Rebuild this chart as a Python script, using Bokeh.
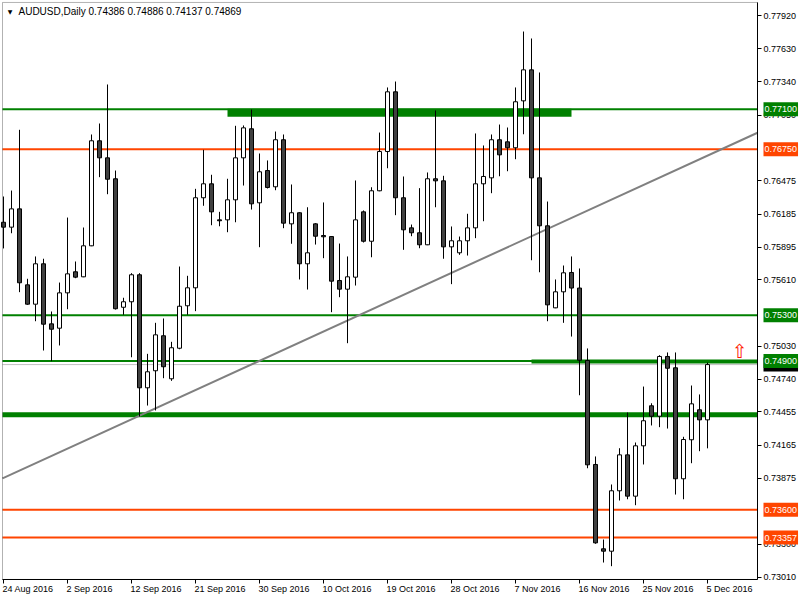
from bokeh.plotting import figure
from bokeh.models import (Range1d, FixedTicker, PrintfTickFormatter, LinearAxis, BoxAnnotation,
                          Label, LabelSet, ColumnDataSource)
from bokeh.core.properties import value
from bokeh.embed import file_html
from bokeh.resources import INLINE

symbol = "AUDUSD"
timeframe = "Daily"

# daily OHLC, bar 0 = 24 Aug 2016 ... bar 88 = 5 Dec 2016
opens = [
    0.76113, 0.76070, 0.76230, 0.75566, 0.75397, 0.75750, 0.75225, 0.75187, 0.75496, 0.75680,
    0.75636, 0.75907, 0.76825, 0.76676, 0.76493, 0.75370, 0.75418, 0.75654, 0.74666, 0.74815,
    0.75121, 0.74745, 0.75012, 0.75383, 0.75540, 0.76327, 0.76449, 0.76134, 0.76134, 0.76309,
    0.76676, 0.76930, 0.76283, 0.76565, 0.76423, 0.76834, 0.76099, 0.76196, 0.75750, 0.76099,
    0.75997, 0.75988, 0.75604, 0.75528, 0.75633, 0.76204, 0.75947, 0.76388, 0.76731, 0.77253,
    0.76327, 0.76064, 0.76021, 0.75916, 0.76493, 0.76475, 0.75898, 0.75846, 0.75951, 0.76064,
    0.76449, 0.76501, 0.76834, 0.76816, 0.76764, 0.77174, 0.77445, 0.76501, 0.76082, 0.75365,
    0.75505, 0.75674, 0.75538, 0.74905, 0.73996, 0.73259, 0.73238, 0.73766, 0.74080, 0.73719,
    0.74159, 0.74509, 0.74418, 0.74940, 0.74841, 0.73871, 0.74212, 0.74474, 0.74386,
]
highs = [
    0.76338, 0.76390, 0.76921, 0.75619, 0.75814, 0.75794, 0.75333, 0.75586, 0.76154, 0.75770,
    0.76067, 0.76880, 0.76976, 0.77317, 0.76565, 0.75453, 0.75668, 0.75668, 0.74963, 0.75234,
    0.75272, 0.75068, 0.75726, 0.75645, 0.76405, 0.76746, 0.76528, 0.76204, 0.76493, 0.76956,
    0.76959, 0.77098, 0.76714, 0.76653, 0.76906, 0.76880, 0.76443, 0.76200, 0.76244, 0.76105,
    0.76286, 0.75992, 0.75927, 0.75814, 0.76478, 0.76216, 0.76419, 0.76897, 0.77291, 0.77343,
    0.76513, 0.76093, 0.76411, 0.76548, 0.77090, 0.76519, 0.76076, 0.75988, 0.76187, 0.76889,
    0.76784, 0.76880, 0.76967, 0.76941, 0.77291, 0.77780, 0.77719, 0.77422, 0.76294, 0.75613,
    0.75735, 0.75814, 0.75709, 0.75010, 0.74066, 0.73340, 0.73821, 0.74138, 0.74450, 0.74188,
    0.74677, 0.74531, 0.74951, 0.74975, 0.74975, 0.74238, 0.74686, 0.74608, 0.74886,
]
lows = [
    0.75884, 0.76017, 0.75502, 0.75391, 0.75248, 0.74992, 0.74899, 0.75036, 0.75353, 0.75624,
    0.75633, 0.75904, 0.76507, 0.76358, 0.75350, 0.75304, 0.74933, 0.74415, 0.74511, 0.74468,
    0.74750, 0.74727, 0.75003, 0.75304, 0.75336, 0.76257, 0.76087, 0.76078, 0.76026, 0.76113,
    0.76434, 0.76224, 0.75895, 0.76408, 0.76393, 0.76061, 0.75925, 0.75613, 0.75525, 0.75918,
    0.75799, 0.75327, 0.75458, 0.75056, 0.75560, 0.75936, 0.75807, 0.76384, 0.76585, 0.76175,
    0.75872, 0.75991, 0.75886, 0.75913, 0.76244, 0.75794, 0.75572, 0.75828, 0.75822, 0.75974,
    0.76122, 0.76367, 0.76515, 0.76559, 0.76664, 0.76882, 0.75781, 0.75676, 0.75248, 0.75362,
    0.75234, 0.75114, 0.74601, 0.73963, 0.73303, 0.73139, 0.73107, 0.73681, 0.73692, 0.73640,
    0.73996, 0.74337, 0.74322, 0.74310, 0.73733, 0.73692, 0.74007, 0.74112, 0.74137,
]
closes = [
    0.76070, 0.76230, 0.75584, 0.75397, 0.75750, 0.75222, 0.75178, 0.75496, 0.75662, 0.75633,
    0.75907, 0.76825, 0.76676, 0.76489, 0.75357, 0.75418, 0.75654, 0.74666, 0.74806, 0.75129,
    0.74850, 0.75016, 0.75379, 0.75540, 0.76327, 0.76449, 0.76204, 0.76126, 0.76309, 0.76676,
    0.76938, 0.76274, 0.76554, 0.76417, 0.76834, 0.76105, 0.76196, 0.75750, 0.75846, 0.75991,
    0.75986, 0.75598, 0.75528, 0.75636, 0.76134, 0.75947, 0.76388, 0.76731, 0.77253, 0.76327,
    0.76047, 0.76021, 0.75916, 0.76493, 0.76475, 0.75898, 0.75951, 0.75951, 0.76064, 0.76449,
    0.76513, 0.76834, 0.76702, 0.76764, 0.77166, 0.77445, 0.76501, 0.76082, 0.75391, 0.75505,
    0.75671, 0.75538, 0.74907, 0.73993, 0.73311, 0.73238, 0.73766, 0.74080, 0.73719, 0.74159,
    0.74378, 0.74418, 0.74940, 0.74837, 0.73871, 0.74214, 0.74526, 0.74386, 0.74869,
]

x_tick_index = [0, 8, 16, 24, 32, 40, 48, 56, 64, 72, 80, 88]
x_tick_labels = ["24 Aug 2016", "2 Sep 2016", "12 Sep 2016", "21 Sep 2016", "30 Sep 2016",
                 "10 Oct 2016", "19 Oct 2016", "28 Oct 2016", "7 Nov 2016", "16 Nov 2016",
                 "25 Nov 2016", "5 Dec 2016"]
y_ticks = [0.77920, 0.77630, 0.77340, 0.77050, 0.76475, 0.76185, 0.75895, 0.75610,
           0.75030, 0.74740, 0.74455, 0.74165, 0.73875, 0.73300, 0.73010]

green_levels = [0.77100, 0.75300, 0.74900]
red_levels = [0.76750, 0.73600, 0.73357]
support_level = 0.74430
zone_price = [0.77070, 0.74895]
zone_start = [28, 66]
zone_end = [71, None]          # None = runs to the right edge of the chart
trend_index = [0, 88]
trend_price = [0.73878, 0.76695]
arrow_index = [92]
arrow_price = [0.74992]

GREEN = "#008000"
RED = "#FF4500"
FONT = "Liberation Sans"

# chart window (bars / prices) and the whole canvas around it
x_start, x_end = -0.125, 94.25
y_bot, y_top = 0.72991, 0.78034

p = figure(width=800, height=600, x_range=Range1d(-0.375, 99.625),
           y_range=Range1d(0.728071, 0.780511), x_axis_location=None, y_axis_location=None,
           toolbar_location=None, output_backend="svg", min_border=0)
p.background_fill_color = "white"
p.border_fill_color = "white"
p.outline_line_color = None
p.grid.visible = False

# axes pinned to the chart window edges
yax = LinearAxis(fixed_location=x_end, bounds=(y_bot, y_top),
                 ticker=FixedTicker(ticks=y_ticks, minor_ticks=[]),
                 formatter=PrintfTickFormatter(format="%.5f"))
yax.major_label_text_font = FONT
yax.major_label_text_font_size = "9px"
yax.major_label_text_color = "black"
yax.major_label_standoff = 2
p.add_layout(yax, "right")
xax = LinearAxis(fixed_location=y_bot, bounds=(x_start, x_end),
                 ticker=FixedTicker(ticks=x_tick_index, minor_ticks=[]))
xax.major_label_text_color = None
p.add_layout(xax, "below")
for ax in (xax, yax):
    ax.major_tick_in = 0
    ax.major_tick_out = 4
    ax.minor_tick_line_color = None
    ax.axis_line_color = "black"
    ax.major_tick_line_color = "black"

p.add_layout(BoxAnnotation(left=x_start, right=x_end, bottom=y_bot, top=y_top,
                           fill_color=None, line_color="black", line_width=1))

# horizontal levels and trend line (behind the candles)
p.segment(x0=x_start, x1=x_end, y0=closes[-1], y1=closes[-1], line_color="#C0C0C0", line_width=1)
p.segment(x0=x_start, x1=x_end, y0=green_levels, y1=green_levels, line_color=GREEN, line_width=2)
p.segment(x0=x_start, x1=x_end, y0=red_levels, y1=red_levels, line_color=RED, line_width=2)
p.segment(x0=x_start, x1=x_end, y0=support_level, y1=support_level, line_color=GREEN, line_width=5)
gradient = (trend_price[1] - trend_price[0]) / (trend_index[1] - trend_index[0])
intercept = trend_price[0] - gradient * trend_index[0]
p.segment(x0=x_start, x1=x_end, y0=intercept + gradient * x_start, y1=intercept + gradient * x_end,
          line_color="#808080", line_width=2)
ze = [x_end if e is None else e for e in zone_end]
p.segment(x0=zone_start[0], x1=ze[0], y0=zone_price[0], y1=zone_price[0], line_color=GREEN, line_width=8)
p.segment(x0=zone_start[1], x1=ze[1], y0=zone_price[1], y1=zone_price[1], line_color=GREEN, line_width=4)

# candles
idx = list(range(len(opens)))
src = ColumnDataSource(dict(
    x=idx, high=highs, low=lows,
    top=[max(o, c) for o, c in zip(opens, closes)],
    bottom=[min(o, c) for o, c in zip(opens, closes)],
    fill=["white" if c >= o else "#404040" for o, c in zip(opens, closes)],
))
p.segment(x0="x", x1="x", y0="low", y1="high", source=src, line_color="black", line_width=1)
p.vbar(x="x", width=0.5, top="top", bottom="bottom", source=src,
       fill_color="fill", line_color="black", line_width=1)

# up arrow marker
p.text(x=arrow_index, y=arrow_price, text=["\u21e7"], text_color="#FF1A00",
       text_font=value("DejaVu Sans"), text_font_size="19px",
       text_align="center", text_baseline="middle")

# date labels, left-aligned at their ticks
xl = ColumnDataSource(dict(x=x_tick_index, text=x_tick_labels))
p.add_layout(LabelSet(x="x", y=y_bot, y_offset=-10, text="text", source=xl,
                      text_align="left", text_baseline="middle", x_offset=-1,
                      text_font=value(FONT), text_font_size="9px", text_color="black"))

# price tags on the right axis
tags = [(green_levels[0], GREEN), (red_levels[0], RED), (green_levels[1], GREEN),
        (closes[-1], "black"), (green_levels[2], GREEN), (red_levels[1], RED),
        (red_levels[2], RED)]
for v, col in tags:
    p.add_layout(Label(x=x_end, y=v, text=f"{v:.5f}", x_offset=6,
                       text_align="left", text_baseline="middle", text_color="white",
                       text_font=FONT, text_font_size="9px",
                       background_fill_color=col, padding=(1, 4)))

# header
p.add_layout(Label(x=9.5, y=589, x_units="screen", y_units="screen", text="\u25bc",
                   text_font="DejaVu Sans", text_font_size="6px", text_align="center",
                   text_baseline="middle", text_color="black"))
header = f"{symbol},{timeframe}  {opens[-1]:.5f} {highs[-1]:.5f} {lows[-1]:.5f} {closes[-1]:.5f}"
p.add_layout(Label(x=18, y=589, x_units="screen", y_units="screen", text=header,
                   text_font=FONT, text_font_size="10px", text_align="left",
                   text_baseline="middle", text_color="black"))

open("out.html", "w").write(file_html(p, INLINE))
